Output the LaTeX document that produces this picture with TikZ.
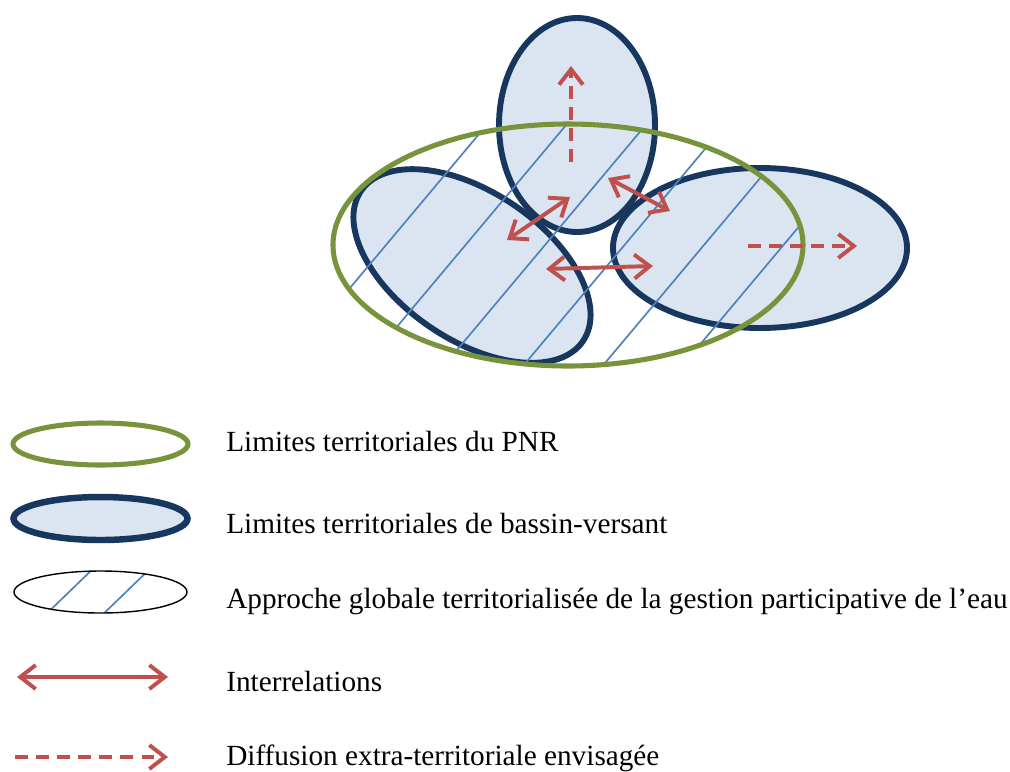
\documentclass[tikz,border=0pt]{standalone}
\usepackage{fontspec}
\setmainfont{Liberation Serif}
\usetikzlibrary{arrows.meta}

\definecolor{pnrvert}{RGB}{119,147,60}
\definecolor{bvfonce}{RGB}{23,55,94}
\definecolor{bvclair}{RGB}{219,229,241}
\definecolor{hachbleu}{RGB}{79,129,189}
\definecolor{rouge}{RGB}{192,80,77}

\begin{document}
\begin{tikzpicture}[x=0.025cm, y=-0.025cm,
  pnr/.style={draw=pnrvert, line width=3.6pt},
  bassin/.style={draw=bvfonce, line width=4.2pt},
  hachure/.style={draw=hachbleu, line width=1.2pt},
  inter/.style={draw=rouge, line width=2.8pt, {Straight Barb[length=11pt, width=17pt]}-{Straight Barb[length=11pt, width=17pt]}},
  diffusion/.style={draw=rouge, line width=2.8pt, dash pattern=on 9pt off 6pt, -{Straight Barb[length=11pt, width=17pt]}},
  legende/.style={anchor=base west, inner sep=0pt, font=\fontsize{20.8}{25}\selectfont}]
\useasboundingbox (0,0) rectangle (1010,771);

% bassins versants
\fill[bvclair, rotate around={-34:(472,266)}] (472,266) ellipse [x radius=134, y radius=74];
\fill[bvclair] (577,125) ellipse [x radius=78, y radius=107];
\fill[bvclair] (760,248) ellipse [x radius=147, y radius=80];
\draw[bassin, rotate around={-34:(472,266)}] (472,266) ellipse [x radius=134, y radius=74];
\draw[bassin] (577,125) ellipse [x radius=78, y radius=107];
\draw[bassin] (760,248) ellipse [x radius=147, y radius=80];

% approche globale (hachures dans le PNR)
\begin{scope}
\clip (568,245) ellipse [x radius=235, y radius=121];
\foreach \hx in {386,465.5,545,624.5,704,783.5}
  \draw[hachure] (\hx-130,400) -- (\hx+130,90);
\end{scope}

% limites du PNR
\draw[pnr] (568,245) ellipse [x radius=235, y radius=121];

% interrelations et diffusion
\coordinate (i1a) at (507,240);
\coordinate (i1b) at (570,197);
\coordinate (i2a) at (608,178);
\coordinate (i2b) at (670,211);
\coordinate (i3a) at (546,269);
\coordinate (i3b) at (653,266);
\coordinate (d1a) at (571,162);
\coordinate (d1b) at (571,66);
\coordinate (d2a) at (748,246);
\coordinate (d2b) at (857,246);
\draw[inter] (i1a) -- (i1b);
\draw[inter] (i2a) -- (i2b);
\draw[inter] (i3a) -- (i3b);
\draw[diffusion] (d1a) -- (d1b);
\draw[diffusion] (d2a) -- (d2b);

% legende
\draw[pnr] (100.5,444) ellipse [x radius=87.5, y radius=21];
\fill[bvclair] (100.5,518.5) ellipse [x radius=87, y radius=21.5];
\draw[bassin, line width=4.6pt] (100.5,518.5) ellipse [x radius=87, y radius=21.5];
\begin{scope}
\clip (100.5,592) ellipse [x radius=86.5, y radius=21];
\foreach \hx in {69,126}
  \draw[hachure] (\hx-30,621) -- (\hx+30,563);
\end{scope}
\draw[black, line width=1pt] (100.5,592) ellipse [x radius=86.5, y radius=21];
\coordinate (li-a) at (17,677);
\coordinate (li-b) at (168,677);
\coordinate (ld-a) at (15,757);
\coordinate (ld-b) at (168,757);
\draw[inter] (li-a) -- (li-b);
\draw[diffusion] (ld-a) -- (ld-b);

\node[legende] (tpnr) at (226,451) {Limites territoriales du PNR};
\node[legende] (tbv) at (226,533) {Limites territoriales de bassin-versant};
\node[legende] (tapp) at (226,608) {Approche globale territorialisée de la gestion participative de l’eau};
\node[legende] (tint) at (226,691) {Interrelations};
\node[legende] (tdif) at (226,765) {Diffusion extra-territoriale envisagée};
\end{tikzpicture}
\end{document}
